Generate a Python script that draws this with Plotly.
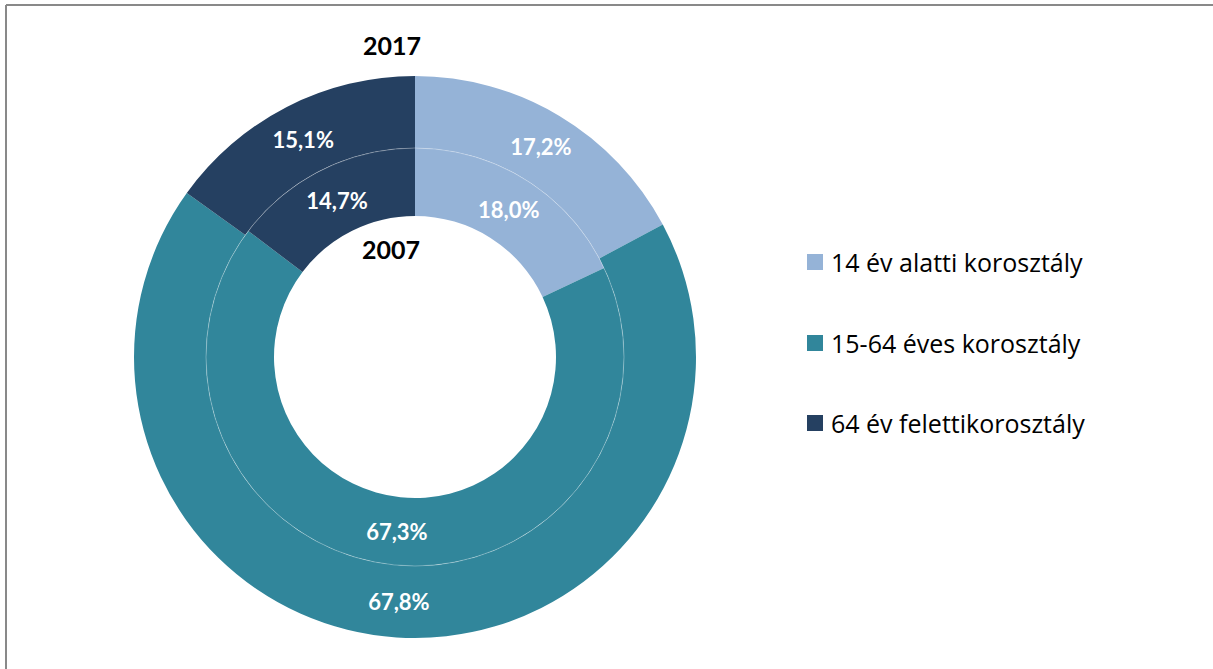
import plotly.graph_objects as go

categories = ["14 év alatti korosztály", "15-64 éves korosztály", "64 év felettikorosztály"]
values_2017 = [17.2, 67.8, 15.1]
values_2007 = [18.0, 67.3, 14.7]
labels_2017 = ["17,2%", "67,8%", "15,1%"]
labels_2007 = ["18,0%", "67,3%", "14,7%"]
colors = ["#95B3D7", "#31869B", "#254061"]

W, H = 1213, 669
cx, cy = 415, 357
r_out, r_mid, r_in = 281, 209, 141


def px_x(x):
    return x / W


def px_y(y):
    return 1 - y / H


fig = go.Figure()
fig.add_trace(go.Pie(
    labels=categories, values=values_2017, text=labels_2017, textinfo="text",
    textposition="inside", insidetextorientation="horizontal",
    textfont=dict(family="Lato", size=22, color="white", weight="bold"),
    marker=dict(colors=colors, line=dict(width=0)),
    hole=r_mid / r_out, sort=False, direction="clockwise", rotation=0,
    domain=dict(x=[px_x(cx - r_out), px_x(cx + r_out)], y=[px_y(cy + r_out), px_y(cy - r_out)]),
    hoverinfo="label+percent", name="2017",
))
fig.add_trace(go.Pie(
    labels=categories, values=values_2007, text=labels_2007, textinfo="text",
    textposition="inside", insidetextorientation="horizontal",
    textfont=dict(family="Lato", size=22, color="white", weight="bold"),
    marker=dict(colors=colors, line=dict(width=0)),
    hole=r_in / r_mid, sort=False, direction="clockwise", rotation=0,
    domain=dict(x=[px_x(cx - r_mid), px_x(cx + r_mid)], y=[px_y(cy + r_mid), px_y(cy - r_mid)]),
    hoverinfo="label+percent", name="2007",
))

shapes = [
    dict(type="circle", xref="paper", yref="paper",
         x0=px_x(cx - r_mid), x1=px_x(cx + r_mid), y0=px_y(cy + r_mid), y1=px_y(cy - r_mid),
         line=dict(color="rgba(255,255,255,0.3)", width=1)),
    dict(type="line", xref="paper", yref="paper", x0=px_x(6), x1=1, y0=px_y(5), y1=px_y(5),
         line=dict(color="#898989", width=2)),
    dict(type="line", xref="paper", yref="paper", x0=px_x(6), x1=px_x(6), y0=0, y1=px_y(5),
         line=dict(color="#898989", width=2)),
]

annotations = [
    dict(text="<b>2017</b>", x=px_x(392), y=px_y(45), xref="paper", yref="paper",
         xanchor="center", yanchor="middle",
         showarrow=False, font=dict(family="Lato", size=25, color="black")),
    dict(text="<b>2007</b>", x=px_x(391), y=px_y(249), xref="paper", yref="paper",
         xanchor="center", yanchor="middle",
         showarrow=False, font=dict(family="Lato", size=25, color="black")),
]

legend_y = [262, 343, 423]
for cat, col, ly in zip(categories, colors, legend_y):
    shapes.append(dict(type="rect", xref="paper", yref="paper",
                       x0=px_x(807), x1=px_x(823), y0=px_y(ly + 8), y1=px_y(ly - 8),
                       fillcolor=col, line=dict(width=0)))
    annotations.append(dict(text=cat, x=px_x(829), y=px_y(ly), xref="paper", yref="paper",
                            xanchor="left", yanchor="middle", showarrow=False,
                            font=dict(family="Open Sans", size=25, color="black")))

fig.update_layout(
    width=W, height=H, margin=dict(l=0, r=0, t=0, b=0),
    paper_bgcolor="white", plot_bgcolor="white", showlegend=False,
    shapes=shapes, annotations=annotations,
)

fig.write_html("out.html", config={"displayModeBar": False},
               post_script="document.body.style.margin='0';document.body.style.padding='0';")
